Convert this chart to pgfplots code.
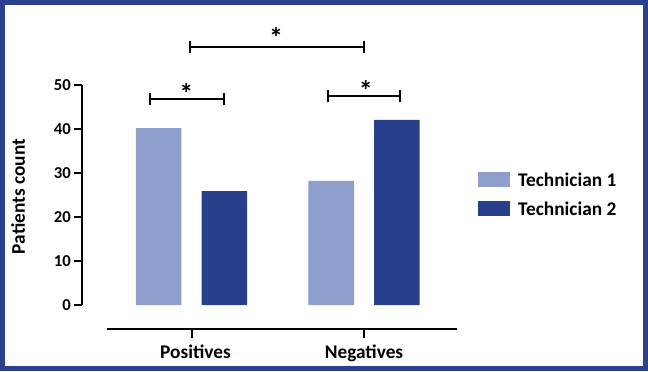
\documentclass[border=0pt]{standalone}
\usepackage{pgfplots}
\pgfplotsset{compat=1.18}
\usepackage{fontspec}
\setmainfont{Carlito}
\definecolor{lightbar}{HTML}{8F9FCB}
\definecolor{darkbar}{HTML}{283F8C}
\definecolor{frame}{HTML}{2B408E}
\begin{document}
\begin{tikzpicture}
\draw[line width=3.5pt, frame] (1.75pt,1.75pt) rectangle (484.25pt,276.5pt);
% axis with bars and y axis
\begin{axis}[
  at={(143.625pt,49.5pt)}, anchor=origin,
  x=129.375pt, y=3.298pt,
  xmin=-0.632, xmax=1.539, ymin=0, ymax=50,
  scale only axis, clip=false,
  axis x line=none, axis y line*=left,
  axis line style={line width=1.5pt, -},
  ytick={0,10,20,30,40,50},
  tick align=outside,
  major tick length=6pt,
  every tick/.style={line width=1.5pt, black},
  /pgf/number format/assume math mode=true,
  yticklabel style={font=\bfseries\fontsize{12.5}{13}\selectfont, inner sep=0pt, xshift=-2.5pt},
  ylabel={Patients count},
  ylabel style={font=\bfseries\fontsize{14.5}{15}\selectfont, at={(axis description cs:-0.172,0.493)}, anchor=center},
  legend style={draw=none, fill=none, at={(axis description cs:1.056,0.5045)}, anchor=west,
    font=\bfseries\fontsize{14.5}{15}\selectfont, row sep=10.5pt, inner sep=0pt,
    nodes={inner sep=0pt, text height=10.5pt, text depth=0pt}},
  legend cell align=left,
  legend image code/.code={\fill[#1] (0pt,-5.5pt) rectangle (24pt,5.5pt); \path (30pt,0pt);},
]
\addplot[ybar, bar width=0.264, bar shift=-0.19, fill=lightbar, draw=none] coordinates {(0,40.2) (1,28.2)};
\addlegendentry{Technician 1}
\addplot[ybar, bar width=0.264, bar shift=0.19, fill=darkbar, draw=none] coordinates {(0,25.9) (1,42.1)};
\addlegendentry{Technician 2}
% significance brackets
\draw[line width=1.5pt] (axis cs:-0.241,46.8) -- (axis cs:0.186,46.8);
\draw[line width=1.5pt] (axis cs:-0.241,45.4) -- (axis cs:-0.241,48.2);
\draw[line width=1.5pt] (axis cs:0.186,45.4) -- (axis cs:0.186,48.2);
\node[anchor=base, inner sep=0pt, font=\bfseries\fontsize{21}{22}\selectfont] at (axis cs:-0.03,45.8) {*};
\draw[line width=1.5pt] (axis cs:0.789,47.5) -- (axis cs:1.206,47.5);
\draw[line width=1.5pt] (axis cs:0.789,46.1) -- (axis cs:0.789,48.9);
\draw[line width=1.5pt] (axis cs:1.206,46.1) -- (axis cs:1.206,48.9);
\node[anchor=base, inner sep=0pt, font=\bfseries\fontsize{21}{22}\selectfont] at (axis cs:1.01,46.6) {*};
\draw[line width=1.5pt] (axis cs:-0.011,58.7) -- (axis cs:1.0,58.7);
\draw[line width=1.5pt] (axis cs:-0.011,57.3) -- (axis cs:-0.011,60.1);
\draw[line width=1.5pt] (axis cs:1.0,57.3) -- (axis cs:1.0,60.1);
\node[anchor=base, inner sep=0pt, font=\bfseries\fontsize{21}{22}\selectfont] at (axis cs:0.49,58.5) {*};
\end{axis}
% separate x axis
\begin{axis}[
  at={(143.625pt,49.5pt)}, anchor=origin,
  x=129.375pt, y=3.298pt,
  xmin=-0.492, xmax=1.539, ymin=-5.46, ymax=50,
  scale only axis,
  axis x line*=bottom, axis y line=none,
  axis line style={line width=1.5pt, -},
  xtick={0,1}, xticklabels={{\kern6pt Positives},Negatives},
  tick align=outside,
  major tick length=6.5pt,
  every tick/.style={line width=1.5pt, black},
  xticklabel style={font=\bfseries\fontsize{14.5}{15}\selectfont, inner sep=0pt, yshift=-5pt},
]
\addplot[draw=none] coordinates {(0,0) (1,0)};
\end{axis}
\pgfresetboundingbox
\path (0,0) rectangle (486pt,278.25pt);
\end{tikzpicture}
\end{document}
